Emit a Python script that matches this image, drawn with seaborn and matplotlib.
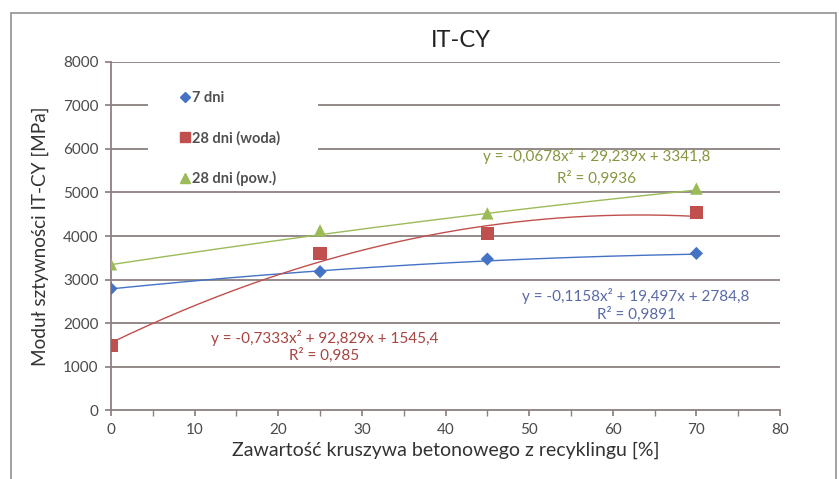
import numpy as np
import pandas as pd
import matplotlib
matplotlib.use("Agg")
import matplotlib.pyplot as plt
import seaborn as sns

# Recycled aggregate content [%]
content = [0, 25, 45, 70]

# Stiffness modulus IT-CY [MPa]
mod_7d = [2790, 3180, 3470, 3600]
mod_28d_water = [1480, 3600, 4060, 4540]
mod_28d_air = [3350, 4130, 4520, 5090]

series_names = ["7 dni", "28 dni (woda)", "28 dni (pow.)"]

# Quadratic trendline coefficients (a, b, c) for y = a x^2 + b x + c
trend_7d = [-0.1158, 19.497, 2784.8]
trend_28d_water = [-0.7333, 92.829, 1545.4]
trend_28d_air = [-0.0678, 29.239, 3341.8]

eq_7d = ["y = -0,1158x² + 19,497x + 2784,8", "R² = 0,9891"]
eq_28d_water = ["y = -0,7333x² + 92,829x + 1545,4", "R² = 0,985"]
eq_28d_air = ["y = -0,0678x² + 29,239x + 3341,8", "R² = 0,9936"]

colors = ["#4472c4", "#c0504d", "#9bbb59"]
text_colors = ["#5a6aa8", "#a8443f", "#86963f"]
markers = ["D", "s", "^"]
msizes = [45, 90, 80]

sns.set_theme(style="white")
plt.rcParams["font.family"] = ["Lato", "DejaVu Sans"]

fig = plt.figure(figsize=(8.39, 4.79), dpi=100)
ax = fig.add_axes([0.1323, 0.144, 0.7974, 0.7266])

df = pd.DataFrame({
    "x": content * 3,
    "y": mod_7d + mod_28d_water + mod_28d_air,
    "series": sum([[n] * len(content) for n in series_names], []),
})

# Gridlines
for v in range(1000, 8001, 1000):
    ax.axhline(v, color="#8c8080", lw=1.3, zorder=0)

# Trendlines
xs = np.linspace(0, 70, 200)
for coef, col in zip([trend_7d, trend_28d_water, trend_28d_air], colors):
    tdf = pd.DataFrame({"x": xs, "y": np.polyval(coef, xs)})
    sns.lineplot(data=tdf, x="x", y="y", ax=ax, color=col, lw=1.0, zorder=2)

sns.scatterplot(data=df, x="x", y="y", hue="series", style="series",
                hue_order=series_names, style_order=series_names,
                palette=colors, markers=dict(zip(series_names, markers)),
                size="series", sizes=dict(zip(series_names, msizes)),
                edgecolor="none", ax=ax, zorder=3, legend=False)

ax.set_xlim(0, 80)
ax.set_ylim(0, 8000)
ax.set_xticks(range(0, 81, 10))
ax.set_xticks(range(0, 81, 5), minor=True)
ax.set_yticks(range(0, 8001, 1000))
ax.tick_params(axis="both", which="both", direction="out", length=4,
               color="#8c8080", labelsize=11, labelcolor="#4a4a4a", pad=5)
ax.tick_params(axis="x", which="both", bottom=True)
ax.tick_params(axis="y", which="both", left=True)
for s in ["top", "right"]:
    ax.spines[s].set_visible(False)
for s in ["left", "bottom"]:
    ax.spines[s].set_color("#8c8080")
    ax.spines[s].set_linewidth(1.3)

ax.set_xlabel("Zawartość kruszywa betonowego z recyklingu [%]", fontsize=14,
              color="#333333", labelpad=4)
ax.set_ylabel("Moduł sztywności IT-CY [MPa]", fontsize=13.7, color="#333333",
              labelpad=10)
ax.set_title("IT-CY", fontsize=17, color="#222222", pad=11, x=0.523)

# White legend area over the gridlines
ax.add_patch(plt.Rectangle((0.055, 5650 / 8000), 0.255, 1750 / 8000,
                           transform=ax.transAxes, facecolor="white",
                           edgecolor="none", zorder=1))

handles = [plt.Line2D([], [], ls="", marker=m, color=c,
                      markersize=ms)
           for m, c, ms in zip(markers, colors, [5, 7, 6.5])]
leg = ax.legend(handles, series_names, loc="upper left",
                bbox_to_anchor=(0.077, 0.962), frameon=False,
                prop={"size": 10.5, "weight": "bold"}, labelspacing=1.75,
                handletextpad=0.05, handlelength=0.9, borderpad=0.6)
for t in leg.get_texts():
    t.set_color("#505050")

# Trendline equations
eq_kw = dict(ha="center", va="center", fontsize=11)
ax.text(58.1, 5850, eq_28d_air[0], color=text_colors[2], **eq_kw)
ax.text(58.1, 5320, eq_28d_air[1], color=text_colors[2], **eq_kw)
ax.text(62.8, 2620, eq_7d[0], color=text_colors[0], **eq_kw)
ax.text(62.8, 2190, eq_7d[1], color=text_colors[0], **eq_kw)
ax.text(25.5, 1660, eq_28d_water[0], color=text_colors[1], **eq_kw)
ax.text(25.5, 1250, eq_28d_water[1], color=text_colors[1], **eq_kw)

# Outer frame of the chart
frame_kw = dict(transform=fig.transFigure, color="#9a9a9a", lw=1.3)
fig.add_artist(plt.Line2D([0.013, 0.013], [0.0, 0.973], **frame_kw))
fig.add_artist(plt.Line2D([0.013, 0.996], [0.973, 0.973], **frame_kw))
fig.add_artist(plt.Line2D([0.996, 0.996], [0.0, 0.973], **frame_kw))

fig.savefig("out.png", dpi=100)
